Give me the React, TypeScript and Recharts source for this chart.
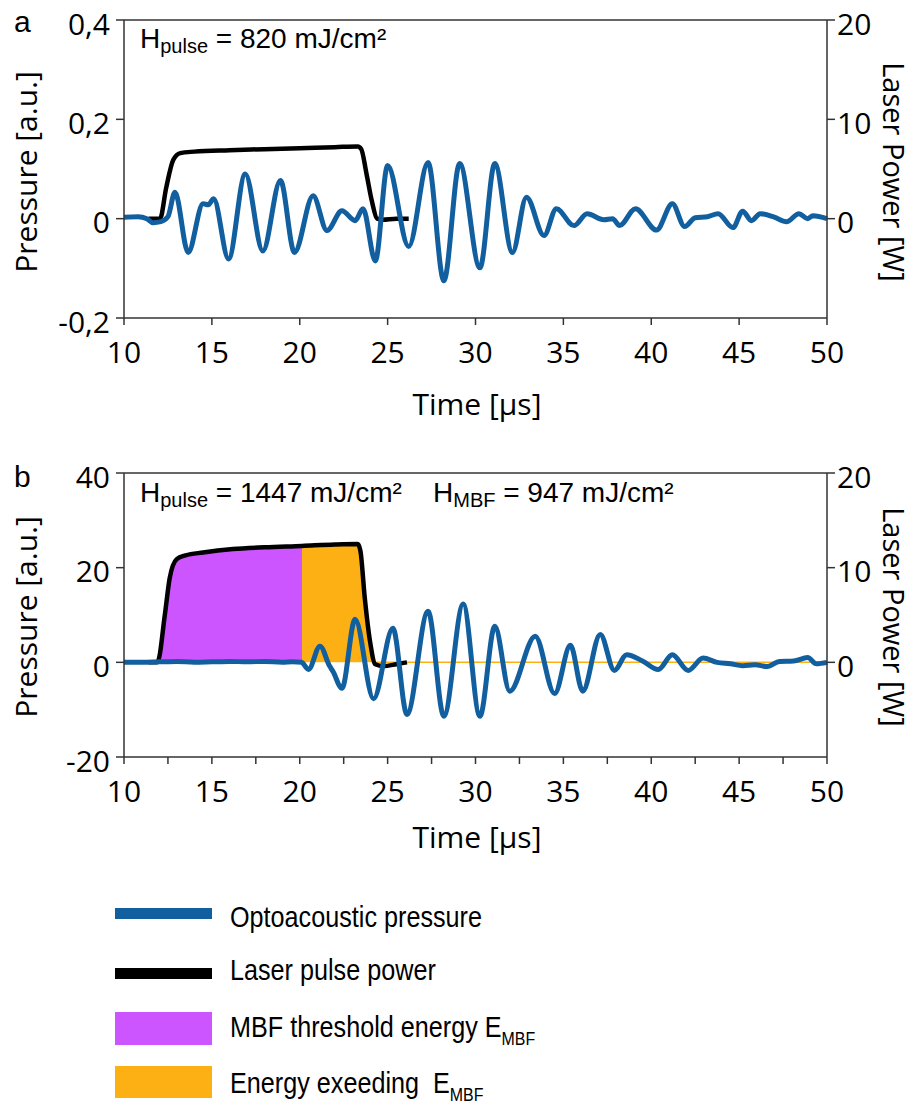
import React from 'react';
import { ComposedChart, Line, Area, XAxis, YAxis, ReferenceLine } from 'recharts';

// panel a: optoacoustic pressure [a.u.] over time [µs]
const pressureTimeA = [10, 10.8, 11.3, 11.65, 12.1, 12.5, 12.9, 13.65, 14.5, 14.8, 15.1, 15.95, 16.9, 17.9, 18.9, 19.7, 20.76, 21.55, 22.4, 23.15, 23.6, 24.3, 25.0, 26.2, 27.3, 28.2, 29.1, 30.25, 31.1, 32.1, 32.9, 33.9, 34.6, 35.6, 36.35, 37.3, 37.8, 38.2, 39.1, 40.3, 41.2, 41.9, 42.5, 43.2, 43.8, 44.65, 45.2, 45.7, 46.2, 47.0, 47.7, 48.4, 48.9, 49.2, 50];
const pressureA = [0.003, 0.004, 0.0, -0.008, -0.006, 0.004, 0.053, -0.068, 0.03, 0.028, 0.04, -0.081, 0.09, -0.065, 0.077, -0.068, 0.046, -0.024, 0.016, -0.004, 0.02, -0.085, 0.107, -0.056, 0.113, -0.125, 0.111, -0.099, 0.111, -0.068, 0.043, -0.034, 0.02, -0.014, 0.01, -0.002, 0.0, -0.014, 0.02, -0.023, 0.03, -0.016, 0.002, 0.004, 0.01, -0.018, 0.015, -0.004, 0.01, 0.003, -0.006, 0.01, 0.0, 0.006, 0.0];

// panel a: laser pulse power [W]
const laserTimeA = [11.4, 12.05, 12.4, 12.8, 13.2, 14, 16, 18, 20, 22, 23.3, 23.5, 23.8, 24.1, 24.4, 24.7, 25.5, 26.2];
const laserPowerA = [0, 0, 3.1, 5.9, 6.6, 6.75, 6.9, 7.0, 7.1, 7.2, 7.27, 7.0, 4.5, 1.8, 0, -0.1, 0, 0];

// panel b: optoacoustic pressure [a.u.]
const pressureTimeB = [10, 11, 12, 13, 14, 15, 16, 17, 18, 19, 19.6, 20.1, 20.5, 21.15, 21.7, 21.9, 22.4, 23.15, 24.2, 25.3, 26.1, 27.3, 28.2, 29.3, 30.25, 31.1, 31.95, 33.4, 34.5, 35.4, 36.1, 37.1, 37.9, 38.6, 39.5, 40.4, 41.2, 42.1, 42.95, 43.75, 44.5, 45.2, 45.9, 46.6, 47.3, 48.1, 48.9, 49.4, 50];
const pressureB = [0, 0, 0.1, 0.2, 0, 0.1, 0.2, 0.1, 0.2, 0, 0.1, 0, -1.5, 3.4, -0.8, -2, -5.5, 9.1, -7.7, 7.2, -11, 10.8, -11.4, 12.3, -11.4, 7.6, -6.1, 5.5, -6.6, 3.6, -6.1, 5.9, -1.7, 1.6, 0.3, -1.5, 1.6, -1.7, 0.9, 0, -0.3, -0.7, -0.5, -0.9, 0.2, 0.3, 1.0, -0.3, 0];

// panel b: laser pulse power [W]
const laserTimeB = [11.4, 11.9, 12.33, 12.6, 13.0, 13.5, 14.5, 16.2, 18, 20.13, 22, 23.3, 23.45, 23.7, 24.0, 24.3, 24.75, 25.5, 26.1];
const laserPowerB = [0, 0, 5.1, 8.9, 10.9, 11.3, 11.6, 11.96, 12.15, 12.3, 12.45, 12.5, 11.8, 6.8, 2.2, -0.2, -0.4, -0.2, 0];

// split of the pulse energy: MBF threshold part ends at 20.13 µs
const mbfStart = 11.9;
const mbfEnd = 20.13;
const exceedEnd = 24.0;
const exceedTailTime = [24.3, 50];
const exceedTailPower = [0, 0];

const timeTicksA = [10, 15, 20, 25, 30, 35, 40, 45, 50];
const timeTicksB = [10, 12.5, 15, 17.5, 20, 22.5, 25, 27.5, 30, 32.5, 35, 37.5, 40, 42.5, 45, 47.5, 50];
const pressureTicksA = [-0.2, 0, 0.2, 0.4];
const pressureTicksB = [-20, 0, 20, 40];
const powerTicks = [0, 10, 20];

const BLUE = '#125f9f';
const PURPLE = '#cc55ff';
const ORANGE = '#fdb014';
const AXIS = '#333';
const OPEN = "'Open Sans', sans-serif";
const SANS = "'Liberation Sans', Arial, sans-serif";

type Row = { t: number; [k: string]: number };

function mergeRows(series: { key: string; t: number[]; v: number[] }[]): Row[] {
  const map = new Map<number, Row>();
  series.forEach(s => s.t.forEach((t, i) => {
    const row = map.get(t) ?? { t };
    row[s.key] = s.v[i];
    map.set(t, row);
  }));
  return [...map.values()].sort((a, b) => a.t - b.t);
}

const dataA = mergeRows([
  { key: 'pressure', t: pressureTimeA, v: pressureA },
  { key: 'laser', t: laserTimeA, v: laserPowerA },
]);

const mbfIdx = laserTimeB.map((t, i) => i).filter(i => laserTimeB[i] >= mbfStart && laserTimeB[i] <= mbfEnd);
const exceedIdx = laserTimeB.map((t, i) => i).filter(i => laserTimeB[i] >= mbfEnd && laserTimeB[i] <= exceedEnd);

const dataB = mergeRows([
  { key: 'pressure', t: pressureTimeB, v: pressureB },
  { key: 'laser', t: laserTimeB, v: laserPowerB },
  { key: 'mbf', t: mbfIdx.map(i => laserTimeB[i]), v: mbfIdx.map(i => laserPowerB[i]) },
  { key: 'exceed', t: [...exceedIdx.map(i => laserTimeB[i]), ...exceedTailTime], v: [...exceedIdx.map(i => laserPowerB[i]), ...exceedTailPower] },
]);

const tickStyle = { fontSize: 30, fontFamily: OPEN, fill: '#000' };
const commaFmt = (v: number) => String(v).replace('.', ',');

interface PanelProps {
  data: Row[];
  top: number;
  height: number;
  pTicks: number[];
  tTicks: number[];
  fills?: boolean;
}

const Panel: React.FC<PanelProps> = ({ data, top, height, pTicks, tTicks, fills }) => (
  <div style={{ position: 'absolute', left: 0, top }}>
    <ComposedChart width={914} height={height} data={data} margin={{ top: 20, right: 0, bottom: 42, left: 0 }}>
      <XAxis
        dataKey="t"
        type="number"
        domain={[10, 50]}
        ticks={tTicks}
        interval={0}
        height={60}
        tickSize={7}
        tickMargin={17}
        stroke={AXIS}
        strokeWidth={1.5}
        tick={tickStyle}
        tickFormatter={(v: number) => (v % 5 === 0 ? String(v) : '')}
      />
      <YAxis
        yAxisId="left"
        orientation="left"
        width={124}
        domain={[pTicks[0], pTicks[pTicks.length - 1]]}
        ticks={pTicks}
        interval={0}
        tickSize={8}
        tickMargin={6}
        stroke={AXIS}
        strokeWidth={1.5}
        tick={{ ...tickStyle, dy: 4 }}
        tickFormatter={commaFmt}
      />
      <YAxis
        yAxisId="right"
        orientation="right"
        width={87}
        domain={[-10, 20]}
        ticks={powerTicks}
        interval={0}
        tickSize={8}
        tickMargin={2}
        stroke={AXIS}
        strokeWidth={1.5}
        tick={{ ...tickStyle, dy: 4 }}
      />
      <ReferenceLine yAxisId="left" y={pTicks[pTicks.length - 1]} stroke={AXIS} strokeWidth={1.5} />
      {fills && (
        <Area yAxisId="right" type="monotone" dataKey="mbf" baseValue={0} fill={PURPLE} fillOpacity={1}
          stroke="none" connectNulls isAnimationActive={false} />
      )}
      {fills && (
        <Area yAxisId="right" type="monotone" dataKey="exceed" baseValue={0} fill={ORANGE} fillOpacity={1}
          stroke={ORANGE} strokeWidth={1.5} connectNulls isAnimationActive={false} />
      )}
      <Line yAxisId="right" type="monotone" dataKey="laser" stroke="#000" strokeWidth={4.5}
        dot={false} connectNulls isAnimationActive={false} />
      <Line yAxisId="left" type="monotone" dataKey="pressure" stroke={BLUE} strokeWidth={5}
        dot={false} connectNulls isAnimationActive={false} />
    </ComposedChart>
  </div>
);

// legend text is condensed horizontally, like the narrow face of the original
const LegendText: React.FC<{ y: number; children: React.ReactNode }> = ({ y, children }) => (
  <g transform={`translate(230,${y}) scale(0.84,1)`}>
    <text x={0} y={0} fontSize={30} fontFamily={SANS} style={{ whiteSpace: 'pre' }}>{children}</text>
  </g>
);

const App: React.FC = () => (
  <div style={{ position: 'absolute', left: 0, top: 0, width: 914, height: 1104, background: '#fff' }}>
    <Panel data={dataA} top={0} height={420} pTicks={pressureTicksA} tTicks={timeTicksA} />
    <Panel data={dataB} top={453} height={406} pTicks={pressureTicksB} tTicks={timeTicksB} fills />
    <svg width={914} height={1104} style={{ position: 'absolute', left: 0, top: 0, pointerEvents: 'none' }}>
      {/* panel letters */}
      <text x={14} y={32} fontSize={30} fontFamily={SANS}>a</text>
      <text x={14} y={487} fontSize={30} fontFamily={SANS}>b</text>

      {/* annotations */}
      <text x={140} y={48} fontSize={28} fontFamily={SANS}>
        H<tspan fontSize={20} dy={5}>pulse</tspan><tspan dy={-5}> = 820 mJ/cm²</tspan>
      </text>
      <text x={140} y={502} fontSize={28} fontFamily={SANS}>
        H<tspan fontSize={20} dy={5}>pulse</tspan><tspan dy={-5}> = 1447 mJ/cm²</tspan>
      </text>
      <text x={433} y={502} fontSize={28} fontFamily={SANS}>
        H<tspan fontSize={20} dy={5}>MBF</tspan><tspan dy={-5}> = 947 mJ/cm²</tspan>
      </text>

      {/* axis titles */}
      <text transform="translate(37,172) rotate(-90)" textAnchor="middle" fontSize={30} fontFamily={OPEN}>Pressure [a.u.]</text>
      <text transform="translate(37,617) rotate(-90)" textAnchor="middle" fontSize={30} fontFamily={OPEN}>Pressure [a.u.]</text>
      <text transform="translate(883,172) rotate(90)" textAnchor="middle" fontSize={29} fontFamily={OPEN}>Laser Power [W]</text>
      <text transform="translate(883,617) rotate(90)" textAnchor="middle" fontSize={29} fontFamily={OPEN}>Laser Power [W]</text>
      <text x={477} y={415} textAnchor="middle" fontSize={30} fontFamily={OPEN}>Time [µs]</text>
      <text x={477} y={848} textAnchor="middle" fontSize={30} fontFamily={OPEN}>Time [µs]</text>

      {/* legend */}
      <rect x={115} y={908} width={97} height={11} fill={BLUE} />
      <LegendText y={927}>Optoacoustic pressure</LegendText>
      <rect x={115} y={968} width={97} height={11} fill="#000" />
      <LegendText y={980}>Laser pulse power</LegendText>
      <rect x={115} y={1012} width={97} height={33} fill={PURPLE} />
      <LegendText y={1037}>
        MBF threshold energy E<tspan fontSize={19} dy={8}>MBF</tspan>
      </LegendText>
      <rect x={115} y={1066} width={97} height={32} fill={ORANGE} />
      <LegendText y={1093}>
        Energy exeeding  E<tspan fontSize={19} dy={8}>MBF</tspan>
      </LegendText>
    </svg>
  </div>
);

export default App;
